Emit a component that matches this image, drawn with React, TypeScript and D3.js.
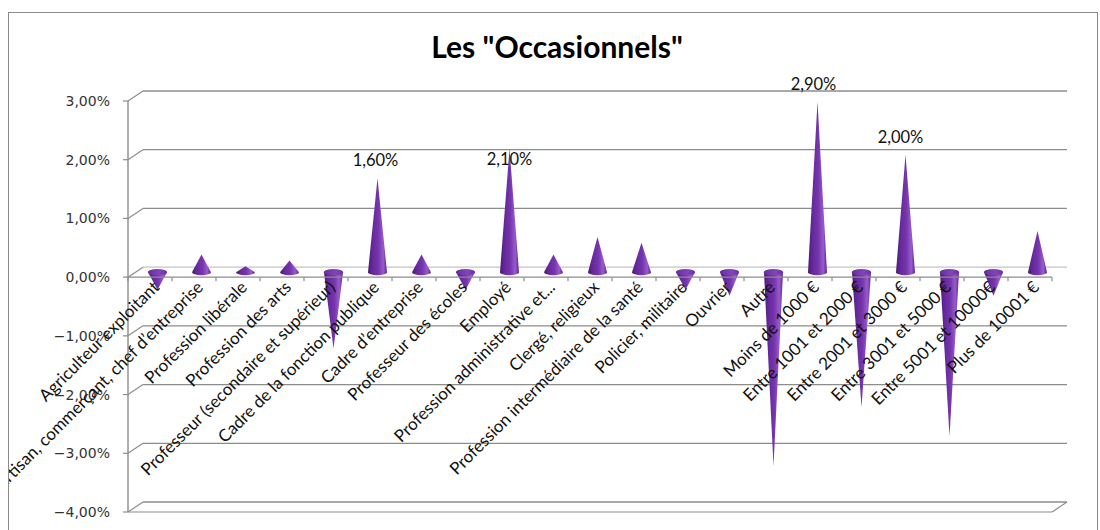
import React from "react";
import * as d3 from "d3";

// ---------- data ----------
const categories: string[] = [
  "Agriculteur exploitant",
  "Artisan, commerçant, chef d’entreprise",
  "Profession libérale",
  "Profession des arts",
  "Professeur (secondaire et supérieur)",
  "Cadre de la fonction publique",
  "Cadre d’entreprise",
  "Professeur des écoles",
  "Employé",
  "Profession administrative et...",
  "Clergé, religieux",
  "Profession intermédiaire de la santé",
  "Policier, militaire",
  "Ouvrier",
  "Autre",
  "Moins de 1000 €",
  "Entre 1001 et 2000 €",
  "Entre 2001 et 3000 €",
  "Entre 3001 et 5000 €",
  "Entre 5001 et 10000€",
  "Plus de 10001 €",
];

// values in percent
const values: number[] = [
  -0.3, 0.3, 0.1, 0.2, -1.3, 1.6, 0.3, -0.3, 2.1, 0.3, 0.6, 0.5, -0.3, -0.4,
  -3.3, 2.9, -2.3, 2.0, -2.8, -0.4, 0.7,
];

const labeledCategories: string[] = [
  "Cadre de la fonction publique",
  "Employé",
  "Moins de 1000 €",
  "Entre 2001 et 3000 €",
];

const yTicks: number[] = [3, 2, 1, 0, -1, -2, -3, -4];

const title = 'Les "Occasionnels"';

// ---------- layout / style ----------
const W = 1100;
const H = 530;
const PLOT = { left: 128, right: 1052, top: 101, bottom: 512 };
const DX = 15;
const DY = -10;
const RX = 9.5;
const RY = 3;
const GRID = "#8c8c8c";
const labelNudge: Record<string, [number, number]> = {
  "Cadre de la fonction publique": [-2, -12],
  "Employé": [0, 16],
  "Moins de 1000 €": [-4, -12],
  "Entre 2001 et 3000 €": [-5, -12],
};

const fmt = (v: number) => d3.format(".2f")(v).replace(".", ",") + "%";

export default function App() {
  const x = d3.scaleBand<string>().domain(categories).range([PLOT.left, PLOT.right]);
  const y = d3.scaleLinear().domain([-4, 3]).range([PLOT.bottom, PLOT.top]);
  const y0 = y(0);
  const bw = x.bandwidth();

  const cones = categories.map((c, i) => {
    const v = values[i];
    const cx = (x(c) as number) + bw / 2 + DX / 2;
    const by = y0 + DY / 2;
    const ty = y(v) + DY / 2;
    const up = v >= 0;
    const d = up
      ? `M${cx - RX},${by}L${cx},${ty}L${cx + RX},${by}A${RX},${RY} 0 0 1 ${cx - RX},${by}Z`
      : `M${cx - RX},${by}L${cx},${ty}L${cx + RX},${by}A${RX},${RY} 0 0 0 ${cx - RX},${by}Z`;
    return { c, v, cx, by, ty, up, d };
  });

  return (
    <svg
      width={W}
      height={H}
      style={{ position: "absolute", left: 0, top: 0, background: "#fff" }}
    >
      <defs>
        <linearGradient id="coneGrad" x1="0" x2="1" y1="0" y2="0">
          <stop offset="0" stopColor="#4c1b78" />
          <stop offset="0.25" stopColor="#66299c" />
          <stop offset="0.55" stopColor="#7636ad" />
          <stop offset="0.8" stopColor="#985bcc" />
          <stop offset="1" stopColor="#5d2a8c" />
        </linearGradient>
        <linearGradient id="topGrad" x1="0" x2="1" y1="0" y2="0">
          <stop offset="0" stopColor="#6a2ca0" />
          <stop offset="0.6" stopColor="#8244b8" />
          <stop offset="1" stopColor="#6e30a4" />
        </linearGradient>
        <clipPath id="chartClip">
          <rect x={9} y={13} width={1088} height={H} />
        </clipPath>
      </defs>

      {/* chart border */}
      <rect x={8.5} y={12.5} width={1089} height={H + 10} fill="#fff" stroke="#8a8a8a" strokeWidth={1} />

      {/* title */}
      <text
        x={557}
        y={58}
        textAnchor="middle"
        fontFamily="Lato, 'Open Sans', sans-serif"
        fontWeight={700}
        fontSize={30}
        fill="#000"
      >
        {title}
      </text>

      {/* back wall gridlines and side wall diagonals */}
      {yTicks.map((t) => {
        const yy = y(t);
        const isZero = t === 0;
        return (
          <g key={t}>
            <line
              x1={PLOT.left + DX}
              x2={PLOT.right + DX}
              y1={yy + DY}
              y2={yy + DY}
              stroke={isZero ? "#c4c4c4" : GRID}
              strokeWidth={1.3}
            />
            <line x1={PLOT.left} y1={yy} x2={PLOT.left + DX} y2={yy + DY} stroke={GRID} strokeWidth={1.2} />
            <line x1={PLOT.left - 5} x2={PLOT.left} y1={yy} y2={yy} stroke={GRID} strokeWidth={1.2} />
          </g>
        );
      })}

      {/* bottom floor */}
      <line x1={PLOT.left} x2={PLOT.right} y1={PLOT.bottom} y2={PLOT.bottom} stroke={GRID} strokeWidth={1.2} />
      <line
        x1={PLOT.right}
        y1={PLOT.bottom}
        x2={PLOT.right + DX}
        y2={PLOT.bottom + DY}
        stroke={GRID}
        strokeWidth={1.2}
      />

      {/* vertical axis */}
      <line x1={PLOT.left} x2={PLOT.left} y1={PLOT.top} y2={PLOT.bottom} stroke={GRID} strokeWidth={1.4} />

      {/* y tick labels */}
      {yTicks.map((t) => (
        <text
          key={"l" + t}
          x={PLOT.left - 18}
          y={y(t)}
          dy="0.36em"
          textAnchor="end"
          fontFamily="'DejaVu Sans', sans-serif"
          fontSize={14}
          fill="#333"
        >
          {fmt(t)}
        </text>
      ))}

      {/* cones */}
      {cones.map((k) => (
        <g key={k.c}>
          <path d={k.d} fill="url(#coneGrad)" />
          {!k.up && <ellipse cx={k.cx} cy={k.by} rx={RX} ry={RY} fill="url(#topGrad)" />}
        </g>
      ))}

      {/* category axis front edge with ticks */}
      <line x1={PLOT.left} x2={PLOT.right} y1={y0} y2={y0} stroke={GRID} strokeWidth={1.4} />
      {categories.concat([""]).map((c, i) => {
        const xx = c ? (x(c) as number) : PLOT.right;
        return <line key={"t" + i} x1={xx} x2={xx} y1={y0} y2={y0 + 4} stroke={GRID} strokeWidth={1.2} />;
      })}

      {/* data labels */}
      {cones
        .filter((k) => labeledCategories.includes(k.c))
        .map((k) => {
          const n = labelNudge[k.c] || [0, -12];
          return (
            <text
              key={"d" + k.c}
              x={k.cx + n[0]}
              y={k.ty + n[1]}
              textAnchor="middle"
              fontFamily="Lato, sans-serif"
              fontSize={16.5}
              fill="#111"
            >
              {fmt(k.v)}
            </text>
          );
        })}

      {/* category labels */}
      <g clipPath="url(#chartClip)">
        {categories.map((c) => {
          const cx = (x(c) as number) + bw / 2;
          return (
            <text
              key={"c" + c}
              transform={`translate(${cx + 6},${y0 + 7}) rotate(-45)`}
              textAnchor="end"
              dy="0.35em"
              fontFamily="Lato, sans-serif"
              fontSize={17}
              fill="#111"
            >
              {c}
            </text>
          );
        })}
      </g>
    </svg>
  );
}
